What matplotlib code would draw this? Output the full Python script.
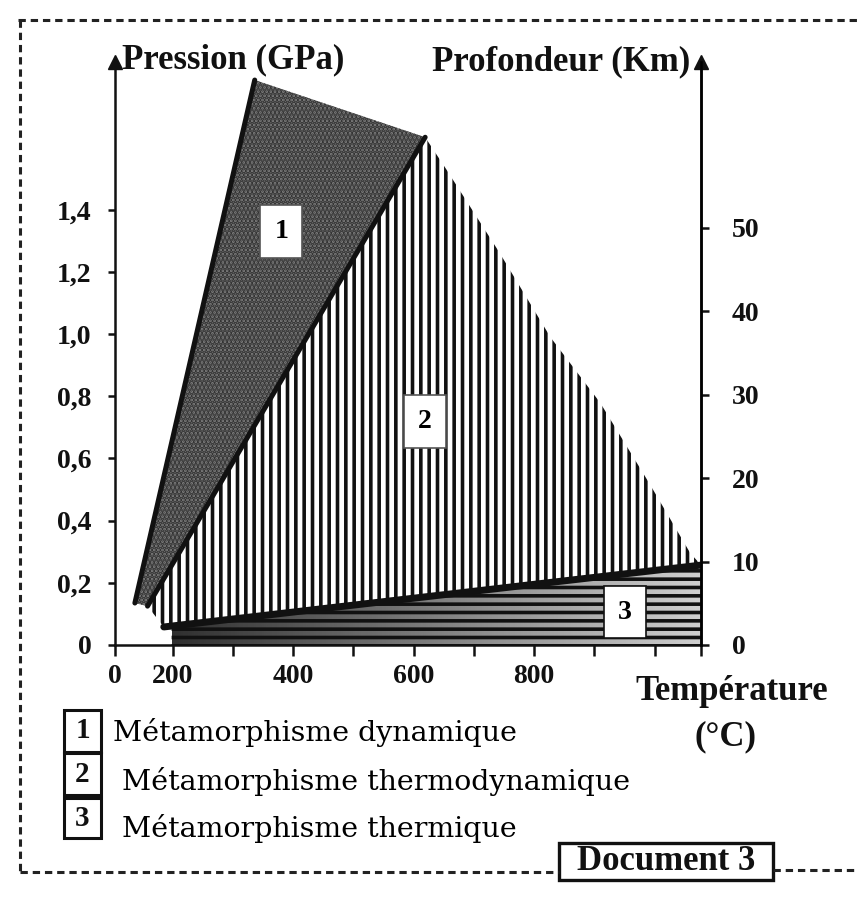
import numpy as np
import matplotlib
matplotlib.use("Agg")
import matplotlib.pyplot as plt
from matplotlib.patches import Polygon, Rectangle
from matplotlib.lines import Line2D

# --- data (T in degC, P in GPa) ---
zone1_T = [137, 336, 619, 158]
zone1_P = [0.135, 1.817, 1.633, 0.125]

zone2_T = [619, 655, 743, 827, 910, 993, 1059, 1077, 185, 158]
zone2_P = [1.633, 1.527, 1.26, 0.99, 0.778, 0.514, 0.296, 0.257, 0.058, 0.125]

zone3_T = [198, 1077, 1077, 198]
zone3_P = [0.058, 0.248, 0.0, 0.0]

zone_names = ["1", "2", "3"]
zone_label_T = [380, 619, 951]
zone_label_P = [1.33, 0.72, 0.106]

temp_ticks = [200, 400, 600, 800]
temp_minor = [200, 300, 400, 500, 600, 700, 800, 900, 1000]
pression_ticks = [0, 0.2, 0.4, 0.6, 0.8, 1.0, 1.2, 1.4]
pression_labels = ["0", "0,2", "0,4", "0,6", "0,8", "1,0", "1,2", "1,4"]
profondeur_ticks = [0, 10, 20, 30, 40, 50]

legend_texts = ["Métamorphisme dynamique",
                "Métamorphisme thermodynamique",
                "Métamorphisme thermique"]

T_min, T_max = 104, 1077
P_max = 1.875
depth_max = 69.9

plt.rcParams['hatch.linewidth'] = 2.6
serif = 'Liberation Serif'
wide = 'DejaVu Serif'
ink = '#111111'

W, H = 859, 900
fig = plt.figure(figsize=(W / 100, H / 100), dpi=100)
ax = fig.add_axes([115 / W, 1 - 645 / H, (701 - 115) / W, (645 - 62) / H])
ax.set_xlim(T_min, T_max)
ax.set_ylim(0, P_max)

# zone 1 : stippled grey
ax.add_patch(Polygon(list(zip(zone1_T, zone1_P)), closed=True,
                     facecolor='#7c7c7c', edgecolor='none', zorder=2))
ax.add_patch(Polygon(list(zip(zone1_T, zone1_P)), closed=True, fill=False,
                     hatch='....', edgecolor='#333333', lw=0, zorder=3))

# zone 2 : vertical lines
ax.add_patch(Polygon(list(zip(zone2_T, zone2_P)), closed=True,
                     facecolor='white', edgecolor='none', zorder=2))
ax.add_patch(Polygon(list(zip(zone2_T, zone2_P)), closed=True, fill=False,
                     hatch='||', edgecolor=ink, lw=0, zorder=3))

# zone 3 : horizontal lines on a dark-to-light grey
z3 = Polygon(list(zip(zone3_T, zone3_P)), closed=True, facecolor='none',
             edgecolor='none', zorder=2)
ax.add_patch(z3)
grad = np.linspace(0, 1, 256).reshape(1, -1)
im = ax.imshow(grad, cmap='gray', vmin=-0.3, vmax=1.3, aspect='auto',
               extent=[min(zone3_T), max(zone3_T), 0, max(zone3_P)],
               zorder=2)
im.set_clip_path(z3)
ax.add_patch(Polygon(list(zip(zone3_T, zone3_P)), closed=True, fill=False,
                     hatch='--', edgecolor=ink, lw=0, zorder=3))

# thick boundaries
ax.plot(zone1_T[:2], zone1_P[:2], color=ink, lw=3.6, zorder=4,
        solid_capstyle='round')
ax.plot([zone1_T[3], zone1_T[2]], [zone1_P[3], zone1_P[2]], color=ink,
        lw=3.6, zorder=4, solid_capstyle='round')
ax.plot([zone2_T[8], zone2_T[7]], [zone2_P[8], zone2_P[7]], color=ink,
        lw=5, zorder=4, solid_capstyle='round')

# numbered boxes inside the zones
for name, t, p in zip(zone_names, zone_label_T, zone_label_P):
    ax.text(t, p, name, fontsize=20, fontweight='bold', family=serif,
            ha='center', va='center', zorder=6,
            bbox=dict(boxstyle='square,pad=0.5', facecolor='white',
                      edgecolor='#555555' if name != '3' else ink,
                      lw=1.2))

# axes styling
ax.spines['top'].set_visible(False)
for s in ['left', 'bottom', 'right']:
    ax.spines[s].set_linewidth(1.8)
    ax.spines[s].set_color(ink)

ax.set_xticks([T_min] + temp_minor + [T_max])
ax.set_xticklabels(["0"] + [str(t) if t in temp_ticks else "" for t in temp_minor] + [""],
                   family=serif, fontsize=20, fontweight='bold')
ax.tick_params(axis='x', direction='out', length=8, width=1.8, pad=6,
               colors=ink)

ax.set_yticks(pression_ticks)
ax.set_yticklabels(pression_labels, family=serif, fontsize=20,
                   fontweight='bold')
ax.tick_params(axis='y', direction='out', length=5, width=1.8, pad=12,
               colors=ink)

ax2 = ax.twinx()
ax2.set_ylim(0, depth_max)
for s in ['top', 'left', 'bottom']:
    ax2.spines[s].set_visible(False)
ax2.spines['right'].set_linewidth(1.8)
ax2.set_yticks(profondeur_ticks)
ax2.set_yticklabels([str(d) for d in profondeur_ticks], family=serif,
                    fontsize=20, fontweight='bold')
ax2.tick_params(axis='y', direction='out', length=6, width=1.8, pad=16,
                colors=ink)

# arrows on the vertical axes
for xa in [0, 1]:
    ax.plot([xa], [1.0], marker='^', markersize=10, color=ink,
            transform=ax.transAxes, clip_on=False, zorder=7)

# axis titles
fig.text(122 / W, 1 - 60 / H, "Pression (GPa)", family=serif, fontsize=25,
         fontweight='bold', ha='left', va='center', color=ink)
fig.text(690 / W, 1 - 62 / H, "Profondeur (Km)", family=serif, fontsize=25,
         fontweight='bold', ha='right', va='center', color=ink)
fig.text(828 / W, 1 - 692 / H, "Température", family=serif, fontsize=25,
         fontweight='bold', ha='right', va='center', color=ink)
fig.text(725 / W, 1 - 737 / H, "(°C)", family=serif, fontsize=25,
         fontweight='bold', ha='center', va='center', color=ink)

# legend
box_y = [(710, 752), (753, 795), (798, 838)]
text_x = [113, 122, 122]
text_base = [741, 790, 837]
for name, (y0, y1), tx, tb, lab in zip(zone_names, box_y, text_x, text_base,
                                        legend_texts):
    fig.add_artist(Rectangle((64 / W, 1 - y1 / H), 37 / W, (y1 - y0) / H,
                             transform=fig.transFigure, fill=False,
                             edgecolor=ink, lw=2.2))
    fig.text(82.5 / W, 1 - (y0 + y1) / 2 / H, name, family=serif, fontsize=21,
             fontweight='bold', ha='center', va='center', color=ink)
    fig.text(tx / W, 1 - tb / H, lab, family=wide, fontsize=20.5,
             ha='left', va='baseline', color='black')

# dashed frame
dash = dict(color='#222222', lw=2.2, linestyle=(0, (2.4, 1.6)),
            transform=fig.transFigure)
fig.add_artist(Line2D([18 / W, 1.0], [1 - 20 / H, 1 - 20 / H], **dash))
fig.add_artist(Line2D([20 / W, 20 / W], [1 - 20 / H, 1 - 872 / H], **dash))
fig.add_artist(Line2D([20 / W, 559 / W], [1 - 872 / H, 1 - 872 / H], **dash))
fig.add_artist(Line2D([773 / W, 1.0], [1 - 870 / H, 1 - 870 / H], **dash))

fig.add_artist(Rectangle((559 / W, 1 - 880 / H), (773 - 559) / W, 37 / H,
                         transform=fig.transFigure, fill=False,
                         edgecolor=ink, lw=2.4))
fig.text(666 / W, 1 - 862 / H, "Document 3", family=serif, fontsize=25,
         fontweight='bold', ha='center', va='center', color=ink)

fig.savefig("out.png", dpi=100)
